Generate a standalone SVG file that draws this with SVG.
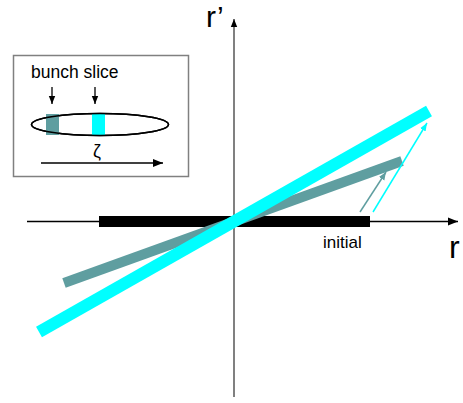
<svg xmlns="http://www.w3.org/2000/svg" width="463" height="403" viewBox="0 0 463 403">
<style>
text{font-family:"Liberation Sans",Arial,sans-serif;fill:#000}
.ax{font-size:32px}
</style>
<defs>
<marker id="ah" viewBox="0 0 10 10" refX="10" refY="5" markerWidth="10" markerHeight="10" markerUnits="userSpaceOnUse" orient="auto"><path d="M0,1 L10,5 L0,9 Z" fill="#000"/></marker>
<marker id="ahg" viewBox="0 0 10 10" refX="10" refY="5" markerWidth="8" markerHeight="8" markerUnits="userSpaceOnUse" orient="auto"><path d="M0,1 L10,5 L0,9 Z" fill="#000"/></marker>
<marker id="aht" viewBox="0 0 10 10" refX="10" refY="5" markerWidth="8" markerHeight="8" markerUnits="userSpaceOnUse" orient="auto"><path d="M0,1 L10,5 L0,9 Z" fill="#5F9EA0"/></marker>
<marker id="ahc" viewBox="0 0 10 10" refX="10" refY="5" markerWidth="8" markerHeight="8" markerUnits="userSpaceOnUse" orient="auto"><path d="M0,1 L10,5 L0,9 Z" fill="#00FFFF"/></marker>
</defs>
<g id="connectors">
<line x1="27" y1="221.5" x2="458" y2="221.5" stroke="#000" stroke-width="1.3" marker-end="url(#ah)"/>
<line x1="234" y1="397" x2="234" y2="19" stroke="#808080" stroke-width="2" marker-end="url(#ahg)"/>
</g>
<g id="initial-bar">
<rect x="99" y="216" width="271" height="11" fill="#000"/>
</g>
<g id="teal-slice">
<line x1="64" y1="283" x2="402" y2="161" stroke="#5F9EA0" stroke-width="10"/>
</g>
<g id="cyan-slice">
<line x1="39" y1="332" x2="429" y2="111" stroke="#00FFFF" stroke-width="12"/>
</g>
<g id="arrows">
<line x1="360" y1="212" x2="386" y2="172" stroke="#5F9EA0" stroke-width="1.5" marker-end="url(#aht)"/>
<line x1="373" y1="212" x2="427" y2="123" stroke="#00FFFF" stroke-width="1.5" marker-end="url(#ahc)"/>
</g>
<g id="labels">
<text x="323" y="248" font-size="17">initial</text>
<text class="ax" x="449" y="258">r</text>
<text x="206" y="27" font-size="30">r’</text>
</g>
<g id="inset">
<rect x="13.5" y="55.5" width="175" height="121" fill="#fff" stroke="#808080" stroke-width="1.5"/>
<text x="31" y="78" font-size="17.5">bunch slice</text>
<line x1="52" y1="87" x2="52" y2="104" stroke="#000" stroke-width="1.3" marker-end="url(#ahg)"/>
<line x1="95" y1="87" x2="95" y2="104" stroke="#000" stroke-width="1.3" marker-end="url(#ahg)"/>
<ellipse cx="100" cy="124.5" rx="68.5" ry="11" fill="#fff" stroke="#000" stroke-width="1.5"/>
<rect x="46" y="114" width="13" height="21" fill="#5F9EA0"/>
<rect x="92" y="113.5" width="13" height="22" fill="#00FFFF"/>
<ellipse cx="100" cy="124.5" rx="68.5" ry="11" fill="none" stroke="#000" stroke-width="1.5"/>
<text x="93" y="157" font-size="18">ζ</text>
<line x1="41" y1="163" x2="163" y2="163" stroke="#000" stroke-width="1.3" marker-end="url(#ah)"/>
</g>
</svg>
